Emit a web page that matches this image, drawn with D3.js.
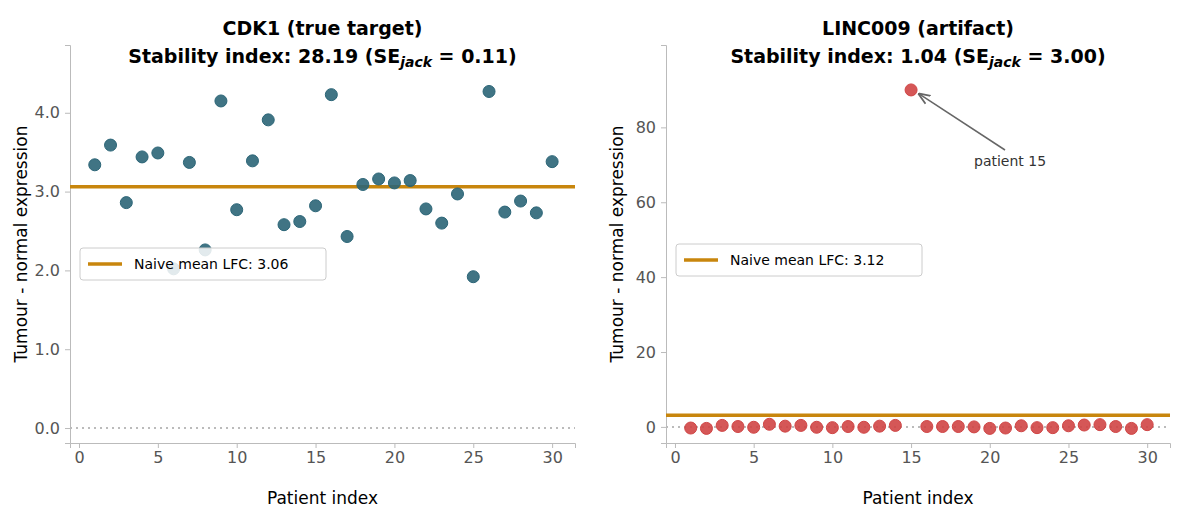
<!DOCTYPE html><html><head><meta charset="utf-8">
<script src="https://cdn.jsdelivr.net/npm/d3@7"></script>
<style>body{margin:0;background:#fff}text{font-family:"DejaVu Sans",sans-serif}</style></head><body>
<svg id="c" width="1185" height="525"></svg>
<script>
const patients = d3.range(1,31);
const cdk1 = [3.34,3.59,2.86,3.44,3.49,2.02,3.37,2.26,4.15,2.77,3.39,3.91,2.58,2.62,2.82,4.23,2.43,3.09,3.16,3.11,3.14,2.78,2.60,2.97,1.92,4.27,2.74,2.88,2.73,3.38];
const linc = [-0.3,-0.4,0.4,0.1,-0.1,0.7,0.2,0.4,-0.1,-0.2,0.1,-0.1,0.2,0.4,90,0.1,0.1,0.1,0.0,-0.4,-0.3,0.3,-0.2,-0.2,0.3,0.5,0.6,0.1,-0.4,0.6];
const panels = [
 {x0:70,x1:575,yd:[-0.19,4.86],yt:[0,1,2,3,4],data:cdk1,col:"#2b6577",mean:3.06,name:"CDK1 (true target)",si:"28.19",se:"0.11",leg:[80,248]},
 {x0:666,x1:1170,yd:[-4.3,102],yt:[0,20,40,60,80],data:linc,col:"#d04545",mean:3.12,name:"LINC009 (artifact)",si:"1.04",se:"3.00",leg:[676,244]}
];
const svg=d3.select("#c"), yTop=45, yBot=443;
panels.forEach((p,pi)=>{
 const x=d3.scaleLinear().domain([-0.57,31.45]).range([p.x0,p.x1]);
 const y=d3.scaleLinear().domain(p.yd).range([yBot,yTop]);
 const g=svg.append("g");
 const cx=(p.x0+p.x1)/2;
 g.append("text").attr("x",cx).attr("y",35).attr("text-anchor","middle").attr("font-size",19).attr("font-weight","bold").text(p.name);
 const t2=g.append("text").attr("x",cx).attr("y",63).attr("text-anchor","middle").attr("font-size",19).attr("font-weight","bold");
 t2.append("tspan").text(`Stability index: ${p.si}   (SE`);
 t2.append("tspan").attr("font-style","italic").attr("font-size",14).attr("dy",4).text("jack");
 t2.append("tspan").attr("dy",-4).text(` = ${p.se})`);
 const xa=g.append("g").attr("transform",`translate(0,${yBot})`).call(d3.axisBottom(x).tickValues([0,5,10,15,20,25,30]).tickSize(5).tickPadding(4));
 const ya=g.append("g").attr("transform",`translate(${p.x0},0)`).call(d3.axisLeft(y).tickValues(p.yt).tickSize(5).tickPadding(5));
 [xa,ya].forEach(a=>{a.selectAll("path,line").attr("stroke","#bbb");a.selectAll("text").attr("fill","#555").attr("font-size",16).attr("font-family","DejaVu Sans");});
 g.append("text").attr("x",cx).attr("y",504).attr("text-anchor","middle").attr("font-size",17).text("Patient index");
 g.append("text").attr("transform",`translate(${p.x0-43},${(yTop+yBot)/2}) rotate(-90)`).attr("text-anchor","middle").attr("font-size",17).text("Tumour - normal expression");
 g.append("line").attr("x1",p.x0).attr("x2",p.x1).attr("y1",y(0)).attr("y2",y(0)).attr("stroke","#bbb").attr("stroke-width",2).attr("stroke-dasharray","2,4");
 g.append("line").attr("x1",p.x0).attr("x2",p.x1).attr("y1",y(p.mean)).attr("y2",y(p.mean)).attr("stroke","#c8860d").attr("stroke-width",3.5);
 g.selectAll("circle").data(p.data).join("circle").attr("cx",(d,i)=>x(patients[i])).attr("cy",d=>y(d)).attr("r",6)
  .attr("fill",p.col).attr("fill-opacity",0.9).attr("stroke",p.col).attr("stroke-width",1);
 const [lx,ly]=p.leg;
 g.append("rect").attr("x",lx).attr("y",ly).attr("width",246).attr("height",32).attr("rx",3).attr("fill","#fff").attr("fill-opacity",0.85).attr("stroke","#ccc");
 g.append("line").attr("x1",lx+8).attr("x2",lx+42).attr("y1",ly+16).attr("y2",ly+16).attr("stroke","#c8860d").attr("stroke-width",3.5);
 g.append("text").attr("x",lx+54).attr("y",ly+21).attr("font-size",14).text(`Naive mean LFC: ${p.mean.toFixed(2)}`);
 if(pi==1){
  const px=x(15),py=y(90);
  svg.append("defs").html('<marker id="ah" viewBox="0 0 10 10" refX="9" refY="5" markerWidth="8" markerHeight="8" orient="auto"><path d="M0,1 L10,5 L0,9" fill="none" stroke="#666" stroke-width="1.5"/></marker>');
  g.append("line").attr("x1",1005).attr("y1",150).attr("x2",px+8).attr("y2",py+4).attr("stroke","#666").attr("stroke-width",1.5).attr("marker-end","url(#ah)");
  g.append("text").attr("x",974).attr("y",166).attr("font-size",14).attr("fill","#333").text("patient 15");
 }
});
</script></body></html>
